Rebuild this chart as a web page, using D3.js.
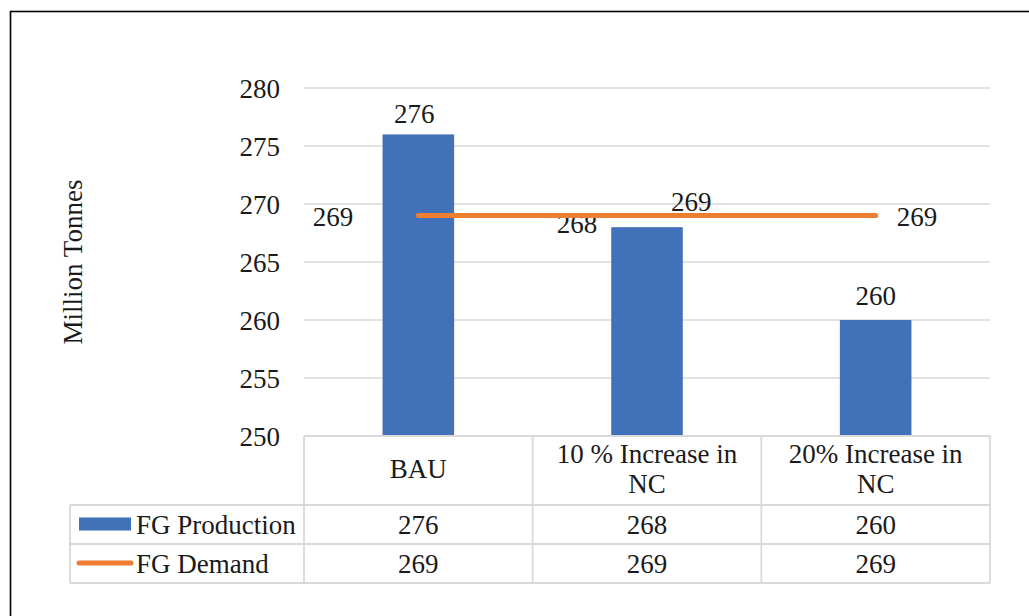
<!DOCTYPE html>
<html>
<head>
<meta charset="utf-8">
<script src="https://cdn.jsdelivr.net/npm/d3@7/dist/d3.min.js"></script>
<style>
  html, body { margin: 0; padding: 0; background: #fff; }
  svg { display: block; }
  svg text { font-family: "Liberation Serif", "Times New Roman", Times, serif; }
</style>
</head>
<body>
<svg id="chart" width="1029" height="616"></svg>
<script>
// Scenarios and their values (million tonnes)
const categories = ["BAU", "10 % Increase in NC", "20% Increase in NC"];
const categoryLines = [["BAU"], ["10 % Increase in", "NC"], ["20% Increase in", "NC"]];
const production = [276, 268, 260];
const demand = [269, 269, 269];
const yTicks = [250, 255, 260, 265, 270, 275, 280];
const seriesNames = ["FG Production", "FG Demand"];

const BLUE = "#4171B9";
const ORANGE = "#ED7D31";
const GRID = "#D9D9D9";
const TEXT = "#1a1a1a";
const FS = 27;
const FONT = "Liberation Serif";

const svg = d3.select("#chart");

// outer frame (extends past the right and bottom edges)
svg.append("rect")
  .attr("x", 10.5).attr("y", 11.5)
  .attr("width", 1060).attr("height", 640)
  .attr("fill", "none").attr("stroke", "#000").attr("stroke-width", 1.6);

const plotLeft = 304, plotRight = 990, plotTop = 88, plotBottom = 436;

const x = d3.scaleBand().domain(categories).range([plotLeft, plotRight]).padding(0);
const y = d3.scaleLinear().domain([250, 280]).range([plotBottom, plotTop]);
const barW = x.bandwidth() * 0.313;

// gridlines
svg.append("g").selectAll("line")
  .data(yTicks.filter(t => t > 250))
  .join("line")
  .attr("x1", plotLeft).attr("x2", plotRight)
  .attr("y1", d => y(d)).attr("y2", d => y(d))
  .attr("stroke", GRID).attr("stroke-width", 1.5);

// y tick labels
const yAxis = d3.axisLeft(y).tickValues(yTicks).tickSize(0).tickPadding(0);
const gy = svg.append("g").attr("transform", "translate(280,0)").call(yAxis)
  .attr("font-family", FONT).attr("font-size", FS);
gy.select(".domain").remove();
gy.selectAll("text")
  .attr("font-family", FONT).attr("font-size", FS)
  .attr("fill", TEXT).attr("dy", "0.34em");

// axis title
svg.append("text")
  .attr("transform", "translate(82,262) rotate(-90)")
  .attr("text-anchor", "middle")
  .attr("font-family", FONT).attr("font-size", FS).attr("fill", TEXT)
  .text("Million Tonnes");

// bars
const cx = c => x(c) + x.bandwidth() / 2;
svg.append("g").selectAll("rect")
  .data(categories)
  .join("rect")
  .attr("x", (c) => cx(c) - barW / 2)
  .attr("y", (c, i) => y(production[i]))
  .attr("width", barW)
  .attr("height", (c, i) => y(250) - y(production[i]))
  .attr("fill", BLUE);

// bar value labels
const barLabelPos = [
  { dx: -4, dy: -11, anchor: "middle" },
  { dx: -barW / 2 - 14, dy: 6, anchor: "end" },
  { dx: 0, dy: -15, anchor: "middle" }
];
svg.append("g").selectAll("text")
  .data(categories)
  .join("text")
  .attr("x", (c, i) => cx(c) + barLabelPos[i].dx)
  .attr("y", (c, i) => y(production[i]) + barLabelPos[i].dy)
  .attr("text-anchor", (c, i) => barLabelPos[i].anchor)
  .attr("font-family", FONT).attr("font-size", FS).attr("fill", TEXT)
  .text((c, i) => production[i]);

// demand line
const line = d3.line().x((d, i) => cx(categories[i])).y(d => y(d));
svg.append("path")
  .datum(demand)
  .attr("d", line)
  .attr("fill", "none").attr("stroke", ORANGE)
  .attr("stroke-width", 5).attr("stroke-linecap", "round");

// demand value labels
const lineLabelPos = [
  { dx: -65, dy: 10, anchor: "end" },
  { dx: 24, dy: -5, anchor: "start" },
  { dx: 21, dy: 10, anchor: "start" }
];
svg.append("g").selectAll("text")
  .data(demand)
  .join("text")
  .attr("x", (d, i) => cx(categories[i]) + lineLabelPos[i].dx)
  .attr("y", (d, i) => y(d) + lineLabelPos[i].dy)
  .attr("text-anchor", (d, i) => lineLabelPos[i].anchor)
  .attr("font-family", FONT).attr("font-size", FS).attr("fill", TEXT)
  .text(d => d);

// data table
const tableLeft = 70;
const rowY = [436, 505, 544, 583];
const tg = svg.append("g").attr("stroke", GRID).attr("stroke-width", 1.8).attr("fill", "none");
// horizontal rules
tg.append("line").attr("x1", plotLeft).attr("x2", plotRight).attr("y1", rowY[0]).attr("y2", rowY[0]);
[1, 2, 3].forEach(r => {
  tg.append("line").attr("x1", tableLeft).attr("x2", plotRight).attr("y1", rowY[r]).attr("y2", rowY[r]);
});
// vertical rules
tg.append("line").attr("x1", tableLeft).attr("x2", tableLeft).attr("y1", rowY[1]).attr("y2", rowY[3]);
categories.forEach(c => {
  tg.append("line").attr("x1", x(c)).attr("x2", x(c)).attr("y1", rowY[0]).attr("y2", rowY[3]);
});
tg.append("line").attr("x1", plotRight).attr("x2", plotRight).attr("y1", rowY[0]).attr("y2", rowY[3]);

// header cells
const header = svg.append("g").attr("font-family", FONT).attr("font-size", FS)
  .attr("fill", TEXT).attr("text-anchor", "middle");
categories.forEach((c, i) => {
  const lines = categoryLines[i];
  const t = header.append("text").attr("x", cx(c));
  if (lines.length === 1) {
    t.attr("y", 478).text(lines[0]);
  } else {
    lines.forEach((ln, k) => {
      t.append("tspan").attr("x", cx(c)).attr("y", 463 + k * 30).text(ln);
    });
  }
});

// value rows
const rows = [production, demand];
rows.forEach((vals, r) => {
  const base = (rowY[r + 1] + rowY[r + 2]) / 2 + 9;
  svg.append("g").selectAll("text")
    .data(vals)
    .join("text")
    .attr("x", (d, i) => cx(categories[i]))
    .attr("y", base)
    .attr("text-anchor", "middle")
    .attr("font-family", FONT).attr("font-size", FS).attr("fill", TEXT)
    .text(d => d);
});

// legend keys inside the table
svg.append("rect")
  .attr("x", 79).attr("y", 517.5).attr("width", 52).attr("height", 13)
  .attr("fill", BLUE);
svg.append("line")
  .attr("x1", 79).attr("x2", 131).attr("y1", 563).attr("y2", 563)
  .attr("stroke", ORANGE).attr("stroke-width", 5).attr("stroke-linecap", "round");
seriesNames.forEach((name, r) => {
  svg.append("text")
    .attr("x", 136).attr("y", (rowY[r + 1] + rowY[r + 2]) / 2 + 9)
    .attr("font-family", FONT).attr("font-size", FS).attr("fill", TEXT)
    .text(name);
});
</script>
</body>
</html>
